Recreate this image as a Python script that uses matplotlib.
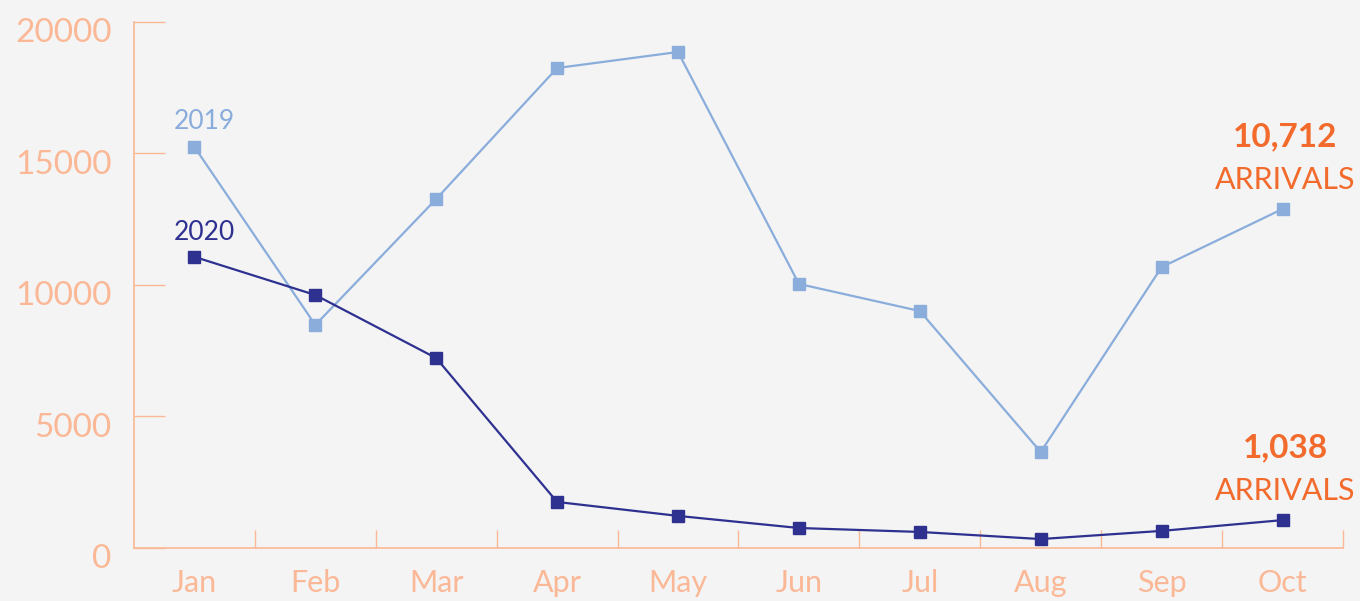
import numpy as np
import matplotlib.transforms as mtransforms
from matplotlib import pyplot as plt

months = ['Jan', 'Feb', 'Mar', 'Apr', 'May', 'Jun', 'Jul', 'Aug', 'Sep', 'Oct']
arrivals_2019 = [15250, 8480, 13270, 18250, 18860, 10040, 9010, 3650, 10680, 12890]
arrivals_2020 = [11070, 9620, 7220, 1750, 1220, 760, 610, 340, 650, 1060]
yticks = [0, 5000, 10000, 15000, 20000]

bg = '#f4f4f4'
axis_col = '#fbb896'
c2019 = '#8aaddc'
c2020 = '#2e3190'
orange = '#f26a2c'

plt.rcParams['font.family'] = ['Lato', 'DejaVu Sans']

fig = plt.figure(figsize=(13.6, 6.01), dpi=100, facecolor=bg)
ax = fig.add_axes([0.0985, 0.0882, 0.889, 0.8752], facecolor=bg)

x = np.arange(len(months))
ax.plot(x, arrivals_2019, color=c2019, lw=1.6, marker='s', ms=8.5, zorder=3)
ax.plot(x, arrivals_2020, color=c2020, lw=1.6, marker='s', ms=8.5, zorder=3)

ax.set_xlim(-0.5, len(months) - 0.5)
ax.set_ylim(0, 20000)

ax.set_xticks(x)
ax.set_xticklabels(months)
ax.set_xticks(x + 0.5, minor=True)
ax.tick_params(axis='x', which='major', length=0, pad=15, labelsize=22, labelcolor=axis_col)
ax.tick_params(axis='x', which='minor', direction='in', length=13, width=1, color=axis_col)

ax.set_yticks(yticks)
ax.set_yticklabels([str(v) for v in yticks])
ax.tick_params(axis='y', direction='in', length=22, width=1, color=axis_col,
               pad=16, labelsize=24, labelcolor=axis_col)
# y labels sit a little below their ticks in the original
shift = mtransforms.ScaledTranslation(0, -6 / 72, fig.dpi_scale_trans)
for lbl in ax.get_yticklabels():
    lbl.set_transform(lbl.get_transform() + shift)

for s in ['top', 'right']:
    ax.spines[s].set_visible(False)
for s in ['left', 'bottom']:
    ax.spines[s].set_color(axis_col)
    ax.spines[s].set_linewidth(1.2)

# series labels
ax.text(0.08, 16230, '2019', color=c2019, fontsize=19, ha='center', va='center')
ax.text(0.08, 12010, '2020', color=c2020, fontsize=19, ha='center', va='center')

# end annotations
ax.text(9.02, 15630, '10,712', color=orange, fontsize=24, fontweight='bold', ha='center', va='center')
ax.text(9.02, 13990, 'ARRIVALS', color=orange, fontsize=22, ha='center', va='center')
ax.text(9.02, 3800, '1,038', color=orange, fontsize=24, fontweight='bold', ha='center', va='center')
ax.text(9.02, 2170, 'ARRIVALS', color=orange, fontsize=22, ha='center', va='center')

fig.savefig('out.png', dpi=100, facecolor=bg)
